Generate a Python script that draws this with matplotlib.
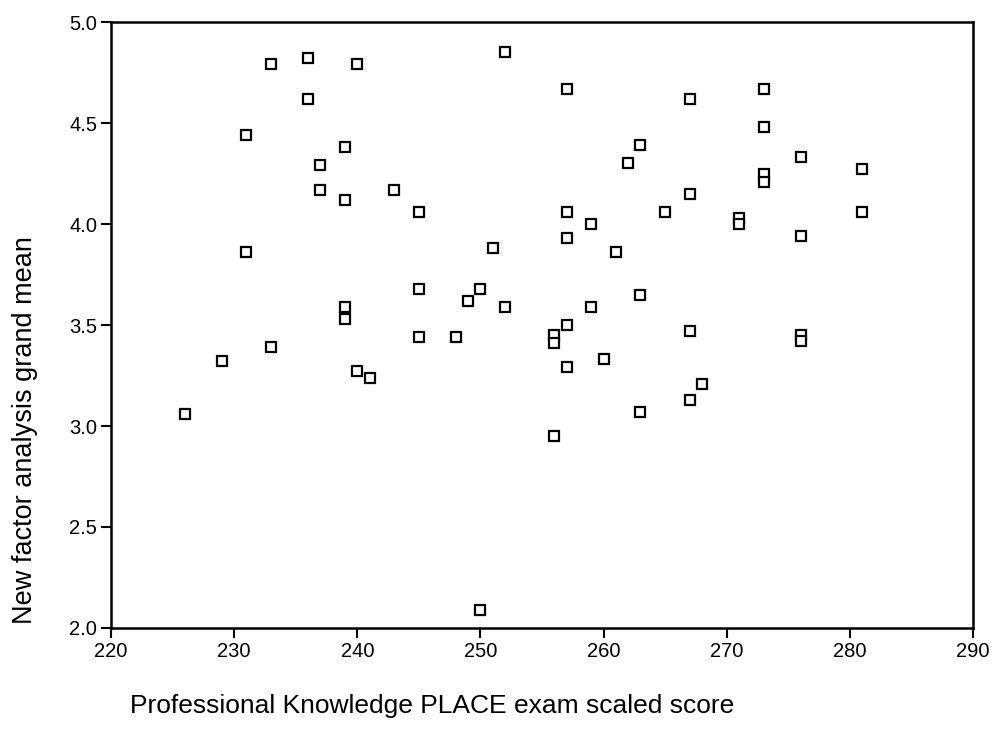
import matplotlib.pyplot as plt

plt.rcParams['font.family'] = ['Liberation Sans', 'DejaVu Sans']

# exam scaled score vs. factor analysis grand mean
score = [226, 229, 231, 231, 233, 233, 236, 236, 237, 237,
         239, 239, 239, 239, 240, 240, 241, 243, 245, 245,
         245, 248, 249, 250, 250, 251, 252, 252, 256, 256,
         256, 257, 257, 257, 257, 257, 259, 259, 260, 261,
         262, 263, 263, 263, 265, 267, 267, 267, 267, 268,
         271, 271, 273, 273, 273, 273, 276, 276, 276, 276,
         281, 281]
grand_mean = [3.06, 3.32, 4.44, 3.86, 4.79, 3.39, 4.82, 4.62, 4.29, 4.17,
              4.38, 4.12, 3.59, 3.53, 4.79, 3.27, 3.24, 4.17, 4.06, 3.68,
              3.44, 3.44, 3.62, 3.68, 2.09, 3.88, 4.85, 3.59, 3.45, 3.41,
              2.95, 4.67, 4.06, 3.93, 3.50, 3.29, 4.00, 3.59, 3.33, 3.86,
              4.30, 4.39, 3.65, 3.07, 4.06, 4.62, 4.15, 3.47, 3.13, 3.21,
              4.03, 4.00, 4.67, 4.48, 4.25, 4.21, 4.33, 3.94, 3.45, 3.42,
              4.27, 4.06]

x_ticks = [220, 230, 240, 250, 260, 270, 280, 290]
y_ticks = [2.0, 2.5, 3.0, 3.5, 4.0, 4.5, 5.0]

fig = plt.figure(figsize=(9.93, 7.35), dpi=100)
ax = fig.add_axes([0.1118, 0.1456, 0.868, 0.8244])

ax.plot(score, grand_mean, linestyle='none', marker='s', markersize=6.5,
        markerfacecolor='white', markeredgecolor='black', markeredgewidth=1.6)

ax.set_xlim(220, 290)
ax.set_ylim(2.0, 5.0)
ax.set_xticks(x_ticks)
ax.set_yticks(y_ticks)
ax.set_yticklabels([f'{v:.1f}' for v in y_ticks])

for s in ax.spines.values():
    s.set_linewidth(1.8)
ax.tick_params(direction='out', length=7, width=1.5, labelsize=14.5, pad=3)

fig.text(0.435, 0.04, 'Professional Knowledge PLACE exam scaled score',
         ha='center', va='center', fontsize=19)
fig.text(0.025, 0.415, 'New factor analysis grand mean', rotation=90,
         ha='center', va='center', fontsize=19.5)

fig.savefig('out.png', dpi=100)
